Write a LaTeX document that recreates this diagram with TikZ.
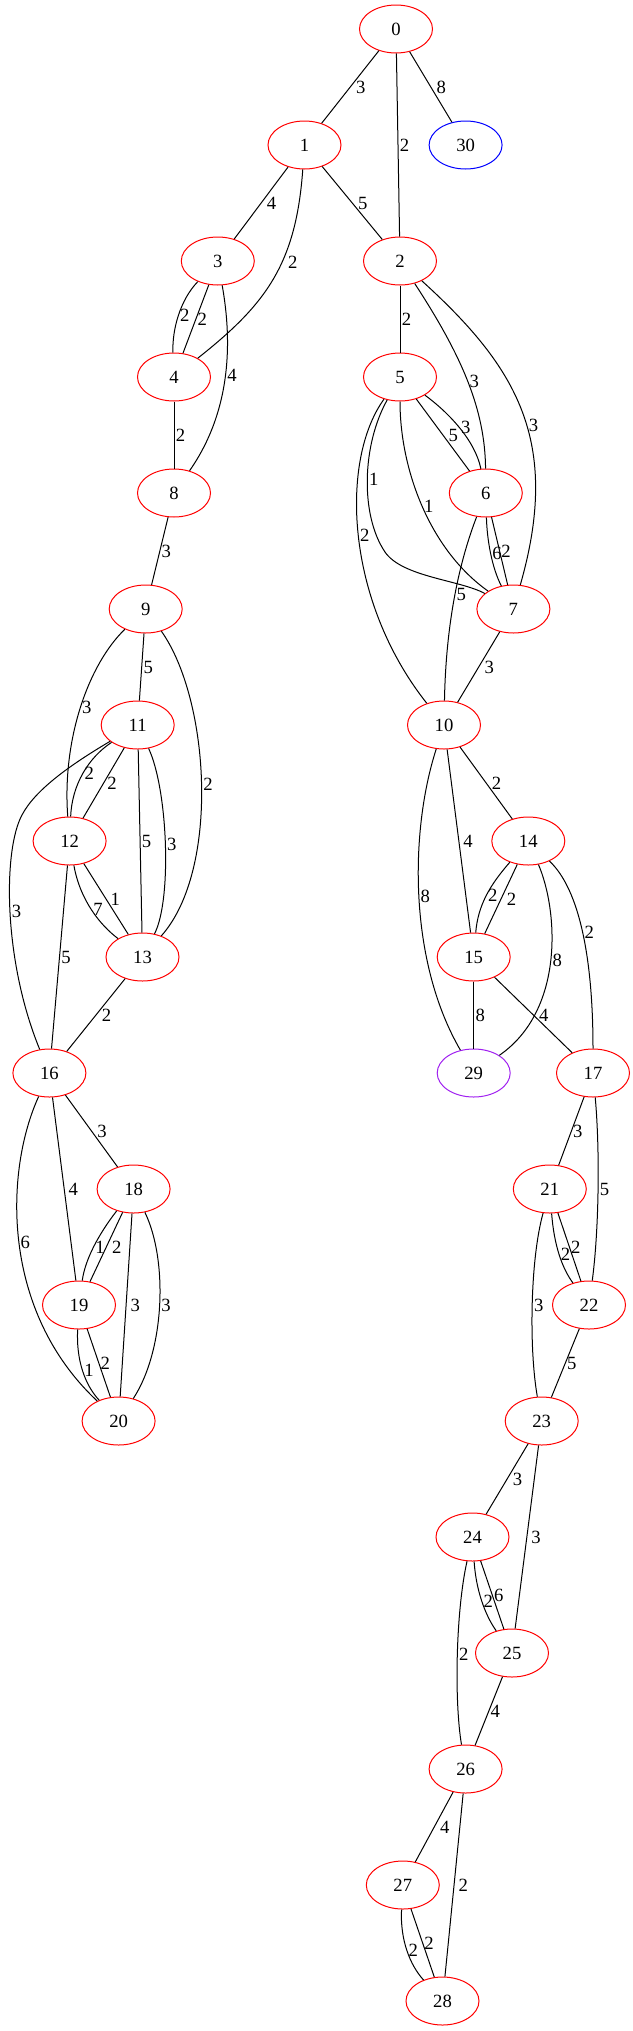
\documentclass[tikz,border=0pt]{standalone}
\usepackage{fontspec}
\setmainfont{Liberation Serif}
\definecolor{gvred}{RGB}{255,0,0}
\definecolor{gvblue}{RGB}{0,0,255}
\definecolor{gvpurple}{RGB}{160,32,240}
\usetikzlibrary{shapes.geometric}

\begin{document}
\begin{tikzpicture}[x=0.75pt, y=-0.75pt, line width=0.75pt,
  vtx/.style={ellipse, draw=gvred, minimum width=54.75pt, minimum height=36pt, inner sep=0pt, font=\fontsize{14}{16}\selectfont},
  wt/.style={right, inner sep=1pt, font=\fontsize{14}{16}\selectfont},
  wts/.style={wt, xshift=3pt}]
  \useasboundingbox (0,0) rectangle (632,2031);

  % vertices, one rank every 116 units
  \foreach \n/\x/\y in {0/396/29, 1/304.5/145, 3/217.8/261, 2/400/261, 4/174/377, 5/400/377,
      8/174/493, 6/485.8/493, 9/145.7/609, 7/513.4/609, 11/137.7/725, 10/444/725,
      12/69.6/841, 14/528.3/841, 13/142.5/957, 15/473.7/957, 16/49.4/1073, 17/593/1073,
      18/133.6/1189, 21/549.8/1189, 19/79/1305, 22/589/1305, 20/118.6/1421, 23/541.7/1421,
      24/472.5/1537, 25/512/1653, 26/465.6/1769, 27/402.8/1885, 28/442.5/2001}
    \node[vtx] (n\n) at (\x,\y) {\n};
  \node[vtx, draw=gvblue] (n30) at (465.6,145) {30};
  \node[vtx, draw=gvpurple] (n29) at (473.7,1073) {29};

  % weighted edges
  \draw (n0) -- node[wts] {3} (n1);
  \draw (n0) -- node[wt] {2} (n2);
  \draw (n0) -- node[wts] {8} (n30);
  \draw (n1) -- node[wts] {4} (n3);
  \draw (n1) -- node[wts] {5} (n2);
  \draw (n1) .. controls (296,265) and (265,305) .. node[wts, pos=0.4] {2} (n4);
  \draw (n3) .. controls (180,300) and (172,330) .. node[wt] {2} (n4);
  \draw (n3) -- node[wt] {2} (n4);
  \draw (n3) .. controls (232,340) and (232,410) .. node[wt] {4} (n8);
  \draw (n2) -- node[wt] {2} (n5);
  \draw (n2) .. controls (462.5,356.7) and (485,410) .. node[wt] {3} (n6);
  \draw (n2) .. controls (516.7,367) and (561.5,441) .. node[wt, pos=0.55] {3} (n7);
  \draw (n4) -- node[wt] {2} (n8);
  \draw (n5) -- node[wts] {5} (n6);
  \draw (n5) .. controls (448,412) and (475,440) .. node[wt] {3} (n6);
  \draw (n5) .. controls (362,445) and (360,515) .. node[wt] {1} (385,552)
        .. controls (402,577) and (460,580) .. (n7);
  \draw (n5) .. controls (400,470) and (430,550) .. node[wt] {1} (n7);
  \draw (n5) .. controls (340,460) and (345,600) .. node[wt] {2} (n10);
  \draw (n6) .. controls (487,540) and (492,568) .. node[wt] {6} (n7);
  \draw (n6) -- node[wt] {2} (n7);
  \draw (n6) .. controls (460,560) and (446,620) .. node[wt] {5} (n10);
  \draw (n7) -- node[wts] {3} (n10);
  \draw (n8) -- node[wt] {3} (n9);
  \draw (n9) -- node[wt] {5} (n11);
  \draw (n9) .. controls (88,665) and (62,740) .. node[wt] {3} (n12);
  \draw (n9) .. controls (210,700) and (220,870) .. node[wt] {2} (n13);
  \draw (n11) .. controls (88,758) and (72,785) .. node[wt] {2} (n12);
  \draw (n11) -- node[wt, xshift=1.5pt] {2} (n12);
  \draw (n11) -- node[wt] {5} (n13);
  \draw (n11) .. controls (168,790) and (172,900) .. node[wt] {3} (n13);
  \draw (n11) .. controls (70,765) and (35,790) .. (22,815)
        .. controls (3,850) and (3,960) .. node[wt] {3} (n16);
  \draw (n12) .. controls (80,900) and (100,925) .. node[wt] {7} (n13);
  \draw (n12) -- node[wt, xshift=2pt] {1} (n13);
  \draw (n12) -- node[wt] {5} (n16);
  \draw (n13) -- node[wts] {2} (n16);
  \draw (n10) -- node[wts] {2} (n14);
  \draw (n10) -- node[wt, xshift=2pt] {4} (n15);
  \draw (n10) .. controls (410,830) and (408,960) .. node[wt] {8} (n29);
  \draw (n14) .. controls (490,885) and (478,905) .. node[wt] {2} (n15);
  \draw (n14) -- node[wts] {2} (n15);
  \draw (n14) .. controls (558,910) and (565,1010) .. node[wt] {8} (n29);
  \draw (n14) .. controls (580,890) and (593,960) .. node[wt] {2} (n17);
  \draw (n15) -- node[wt] {8} (n29);
  \draw (n15) -- node[wts] {4} (n17);
  \draw (n16) -- node[wts] {3} (n18);
  \draw (n16) -- node[wt, xshift=2pt] {4} (n19);
  \draw (n16) .. controls (5,1170) and (0,1310) .. node[wt] {6} (n20);
  \draw (n18) .. controls (98,1235) and (85,1260) .. node[wt] {1} (n19);
  \draw (n18) -- node[wts] {2} (n19);
  \draw (n18) -- node[wt, xshift=2pt] {3} (n20);
  \draw (n18) .. controls (168,1260) and (165,1350) .. node[wt] {3} (n20);
  \draw (n19) .. controls (76,1360) and (85,1385) .. node[wt] {1} (n20);
  \draw (n19) -- node[wt] {2} (n20);
  \draw (n17) -- node[wt] {3} (n21);
  \draw (n17) .. controls (600,1150) and (599,1230) .. node[wt] {5} (n22);
  \draw (n21) .. controls (554,1245) and (562,1268) .. node[wt] {2} (n22);
  \draw (n21) -- node[wt] {2} (n22);
  \draw (n21) .. controls (530,1260) and (529,1350) .. node[wt] {3} (n23);
  \draw (n22) -- node[wt] {5} (n23);
  \draw (n23) -- node[wts] {3} (n24);
  \draw (n23) -- node[wt, xshift=2pt] {3} (n25);
  \draw (n24) .. controls (476,1590) and (485,1615) .. node[wt] {2} (n25);
  \draw (n24) -- node[wt] {6} (n25);
  \draw (n24) .. controls (456,1610) and (454,1700) .. node[wt] {2} (n26);
  \draw (n25) -- node[wt] {4} (n26);
  \draw (n26) -- node[wts] {4} (n27);
  \draw (n26) -- node[wt, xshift=2pt] {2} (n28);
  \draw (n27) .. controls (400,1940) and (410,1965) .. node[wt] {2} (n28);
  \draw (n27) -- node[wt] {2} (n28);
\end{tikzpicture}
\end{document}
